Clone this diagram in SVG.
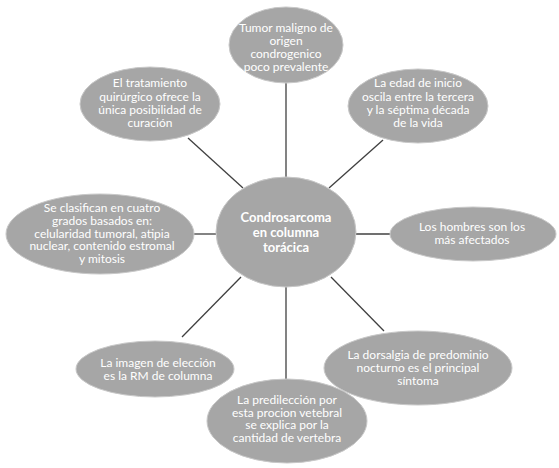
<svg xmlns="http://www.w3.org/2000/svg" width="559" height="468" viewBox="0 0 559 468">
<style>
.n{fill:#a6a6a6;stroke:#c8c8c8;stroke-width:1}
.t{font-family:Lato,"Liberation Sans",sans-serif;font-size:12px;fill:#ffffff;text-anchor:middle}
.c{font-family:Lato,"Liberation Sans",sans-serif;font-size:13px;font-weight:bold;fill:#ffffff;text-anchor:middle}
.e{stroke:#404040;stroke-width:1.3;fill:none}
</style>
<rect width="559" height="468" fill="#ffffff"/>
<g id="connectors">
<line class="e" x1="286" y1="83" x2="286" y2="177"/>
<line class="e" x1="188" y1="138" x2="243" y2="188"/>
<line class="e" x1="383" y1="140" x2="329" y2="188"/>
<line class="e" x1="193" y1="234" x2="216" y2="234"/>
<line class="e" x1="356" y1="234" x2="390" y2="234"/>
<line class="e" x1="182" y1="337" x2="241" y2="277"/>
<line class="e" x1="286" y1="287" x2="286" y2="379"/>
<line class="e" x1="331" y1="277" x2="384" y2="331"/>
</g>
<g id="center">
<ellipse class="n" cx="286" cy="232" rx="70" ry="55"/>
<text class="c" x="286" y="222">Condrosarcoma</text>
<text class="c" x="286" y="237">en columna</text>
<text class="c" x="286" y="252">torácica</text>
</g>
<g id="top">
<ellipse class="n" cx="286" cy="45" rx="57" ry="38"/>
<text class="t" x="286" y="32">Tumor maligno de</text>
<text class="t" x="286" y="45">origen</text>
<text class="t" x="286" y="58">condrogenico</text>
<text class="t" x="286" y="71">poco prevalente</text>
</g>
<g id="topleft">
<ellipse class="n" cx="150" cy="104" rx="70" ry="37"/>
<text class="t" x="150" y="87">El tratamiento</text>
<text class="t" x="150" y="101">quirúrgico ofrece la</text>
<text class="t" x="150" y="114">única posibilidad de</text>
<text class="t" x="150" y="127">curación</text>
</g>
<g id="topright">
<ellipse class="n" cx="418" cy="106" rx="70" ry="37"/>
<text class="t" x="418" y="87">La edad de inicio</text>
<text class="t" x="418" y="101">oscila entre la tercera</text>
<text class="t" x="418" y="114">y la séptima década</text>
<text class="t" x="418" y="127">de la vida</text>
</g>
<g id="left">
<ellipse class="n" cx="100" cy="234" rx="94" ry="40"/>
<text class="t" x="102" y="212">Se clasifican en cuatro</text>
<text class="t" x="102" y="225">grados basados en:</text>
<text class="t" x="102" y="238">celularidad tumoral, atipia</text>
<text class="t" x="102" y="250">nuclear, contenido estromal</text>
<text class="t" x="102" y="263">y mitosis</text>
</g>
<g id="right">
<ellipse class="n" cx="473" cy="234" rx="83" ry="27"/>
<text class="t" x="472" y="231">Los hombres son los</text>
<text class="t" x="472" y="244">más afectados</text>
</g>
<g id="bottomleft">
<ellipse class="n" cx="155" cy="369" rx="79" ry="28"/>
<text class="t" x="158" y="367">La imagen de elección</text>
<text class="t" x="158" y="380">es la RM de columna</text>
</g>
<g id="bottomright">
<ellipse class="n" cx="418" cy="368" rx="94" ry="37"/>
<text class="t" x="418" y="359">La dorsalgia de predominio</text>
<text class="t" x="418" y="372">nocturno es el principal</text>
<text class="t" x="418" y="385">síntoma</text>
</g>
<g id="bottom">
<ellipse class="n" cx="287" cy="421" rx="80" ry="42"/>
<text class="t" x="287" y="404">La predilección por</text>
<text class="t" x="287" y="417">esta procion vetebral</text>
<text class="t" x="287" y="429">se explica por la</text>
<text class="t" x="287" y="442">cantidad de vertebra</text>
</g>
</svg>
